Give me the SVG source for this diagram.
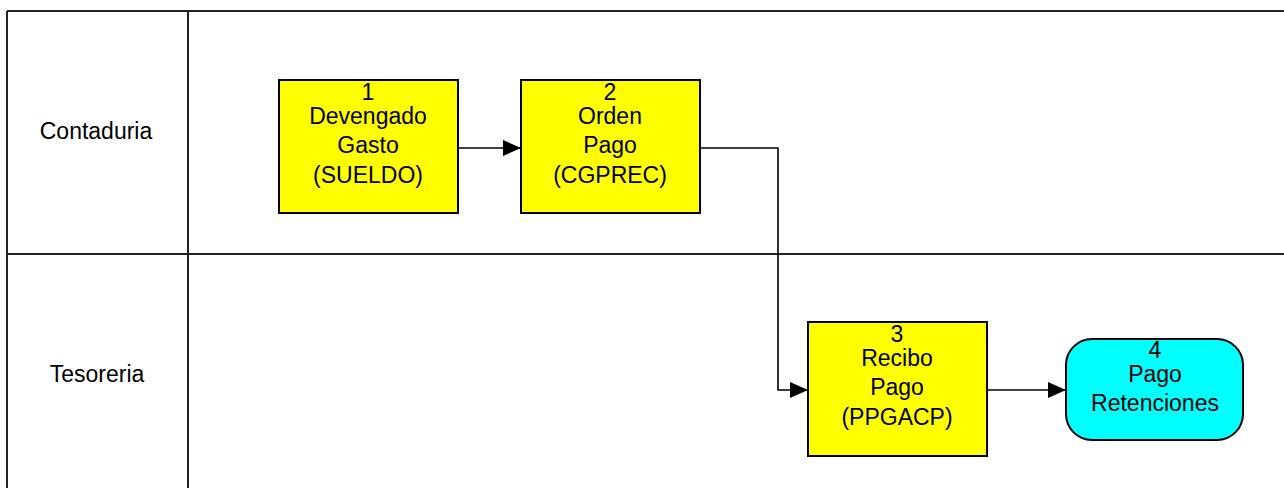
<svg xmlns="http://www.w3.org/2000/svg" width="1284" height="488" viewBox="0 0 1284 488">
<style>
.lane{stroke:#222;stroke-width:2;fill:none}
.box{fill:#ffff00;stroke:#000;stroke-width:2}
.term{fill:#00ffff;stroke:#000;stroke-width:2}
text{font-family:"Liberation Sans",Arial,sans-serif;font-size:23px;fill:#000;text-anchor:middle}
.conn{stroke:#000;stroke-width:1.6;fill:none;marker-end:url(#arr)}
</style>
<defs>
<marker id="arr" markerWidth="18" markerHeight="16" refX="18" refY="8" orient="auto" markerUnits="userSpaceOnUse">
<path d="M0,0 L18,8 L0,16 Z" fill="#000"/>
</marker>
</defs>
<rect width="1284" height="488" fill="#fff"/>
<g id="lanes">
<line class="lane" x1="7" y1="11" x2="1284" y2="11"/>
<line class="lane" x1="7" y1="254" x2="1284" y2="254"/>
<line class="lane" x1="7" y1="11" x2="7" y2="488"/>
<line class="lane" x1="188" y1="11" x2="188" y2="488"/>
<text x="96" y="139">Contaduria</text>
<text x="97" y="382">Tesoreria</text>
</g>
<g id="connectors">
<line class="conn" x1="458" y1="148" x2="521" y2="148"/>
<polyline class="conn" points="700,148 778,148 778,390 808,390"/>
<line class="conn" x1="987" y1="390" x2="1066" y2="390"/>
</g>
<g id="n1">
<rect class="box" x="279" y="80" width="179" height="133"/>
<text x="368" y="100">1</text>
<text x="368" y="124">Devengado</text>
<text x="368" y="153">Gasto</text>
<text x="368" y="183">(SUELDO)</text>
</g>
<g id="n2">
<rect class="box" x="521" y="80" width="179" height="133"/>
<text x="610" y="100">2</text>
<text x="610" y="124">Orden</text>
<text x="610" y="153">Pago</text>
<text x="610" y="183">(CGPREC)</text>
</g>
<g id="n3">
<rect class="box" x="808" y="322" width="179" height="134"/>
<text x="897" y="342">3</text>
<text x="897" y="366">Recibo</text>
<text x="897" y="395">Pago</text>
<text x="897" y="425">(PPGACP)</text>
</g>
<g id="n4">
<rect class="term" x="1066" y="339" width="177" height="101" rx="26" ry="26"/>
<text x="1155" y="358">4</text>
<text x="1155" y="382">Pago</text>
<text x="1155" y="411">Retenciones</text>
</g>
</svg>
